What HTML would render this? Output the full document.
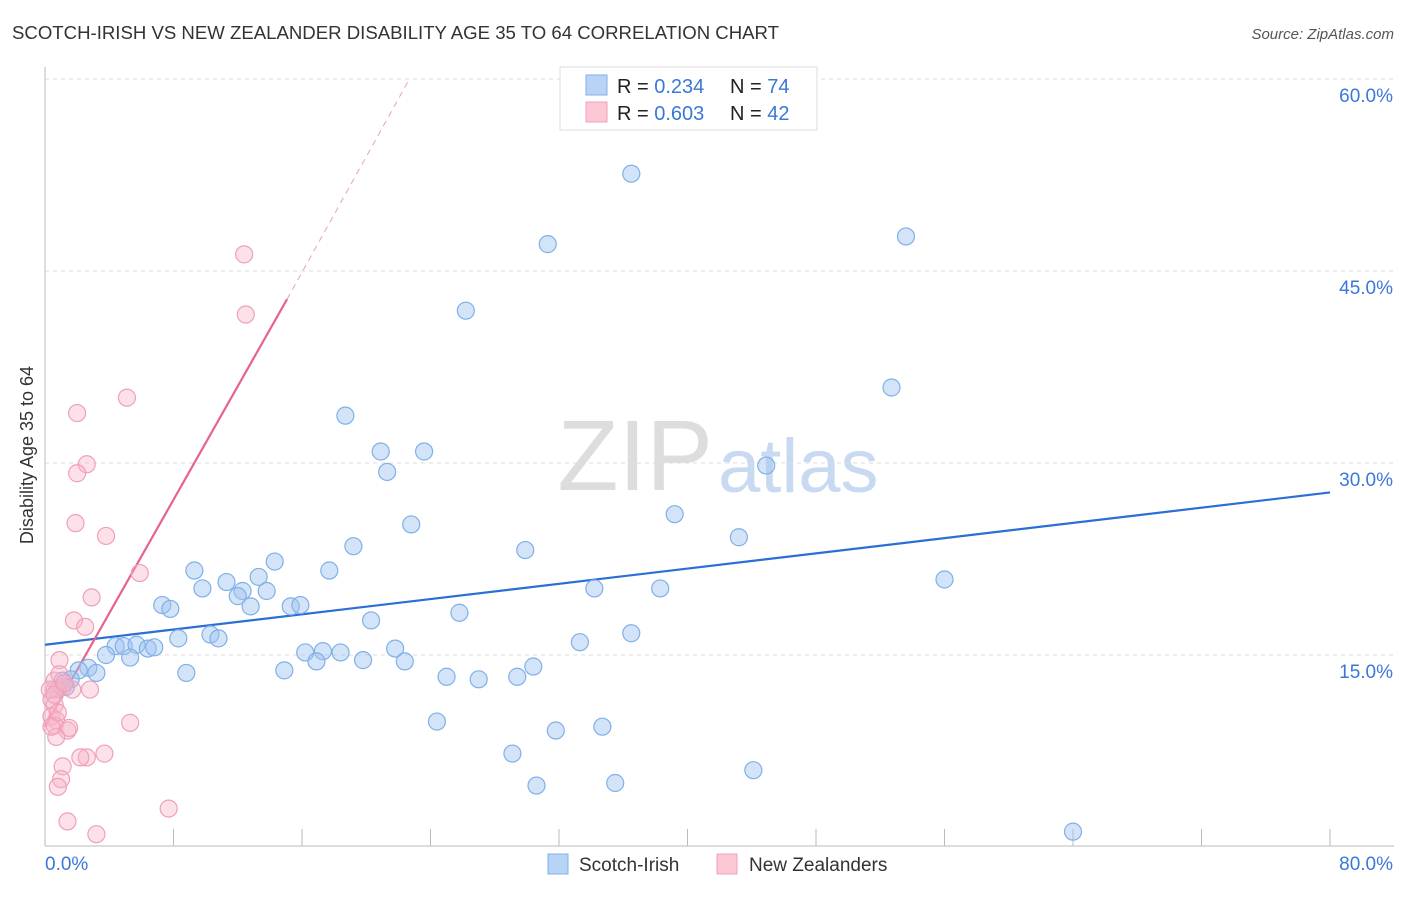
<!DOCTYPE html>
<html><head><meta charset="utf-8"><style>
body{margin:0;background:#fff;font-family:"Liberation Sans",sans-serif;}
svg text{font-family:"Liberation Sans",sans-serif;}
</style></head><body>
<svg id="chart" width="1406" height="892">
<text x="12" y="39" font-size="18.6" fill="#333">SCOTCH-IRISH VS NEW ZEALANDER DISABILITY AGE 35 TO 64 CORRELATION CHART</text>
<text x="1394" y="39" font-size="15" fill="#555" font-style="italic" text-anchor="end">Source: ZipAtlas.com</text>
<text x="713" y="490" font-size="100" fill="#ddd" font-family="Liberation Serif" text-anchor="end">ZIP</text>
<text x="718" y="492" font-size="76" fill="#c8daf2">atlas</text>
<g id="grid"></g><g id="axes"></g><g id="lines"></g><g id="pts"></g>
<text transform="translate(33,455) rotate(-90)" font-size="18" fill="#333" text-anchor="middle">Disability Age 35 to 64</text>
<g>
<rect x="560" y="67" width="257" height="63" fill="#fff" stroke="#ddd"/>
<rect x="586" y="75" width="21" height="20" fill="#b8d3f5" stroke="#7fb0e8"/>
<rect x="586" y="102" width="21" height="20" fill="#fcc8d6" stroke="#f0a0b8"/>
<text x="617" y="93" font-size="20" fill="#222">R = <tspan fill="#3a78d8">0.234</tspan></text>
<text x="730" y="93" font-size="20" fill="#222">N = <tspan fill="#3a78d8">74</tspan></text>
<text x="617" y="120" font-size="20" fill="#222">R = <tspan fill="#3a78d8">0.603</tspan></text>
<text x="730" y="120" font-size="20" fill="#222">N = <tspan fill="#3a78d8">42</tspan></text>
</g>
<g>
<rect x="548" y="854" width="20" height="20" fill="#b8d3f5" stroke="#7fb0e8"/>
<text x="579" y="871" font-size="19" fill="#333">Scotch-Irish</text>
<rect x="717" y="854" width="20" height="20" fill="#fcc8d6" stroke="#f0a0b8"/>
<text x="749" y="871" font-size="19" fill="#333">New Zealanders</text>
</g>
</svg>
<script>
const yTicks=[15,30,45,60];
const yTickLabels=["15.0%","30.0%","45.0%","60.0%"];
const xTickLabels=["0.0%","80.0%"];
const blueX=[36.5,31.3,53.6,26.2,52.7,18.7,20.9,23.6,21.3,44.9,39.2,22.8,43.2,29.9,19.2,14.3,9.3,17.7,11.3,13.3,9.8,12.3,12.0,13.8,56.0,34.2,38.3,7.3,7.8,12.8,15.3,15.9,25.8,20.3,8.3,10.3,10.8,33.3,36.5,4.4,4.9,5.7,6.4,6.8,3.8,5.3,21.8,16.2,17.3,18.4,16.9,19.8,22.4,30.4,2.7,3.2,8.8,14.9,25.0,27.0,29.4,2.1,1.6,1.1,0.8,24.4,31.8,34.7,29.1,44.1,30.6,35.5,64.0,1.3];
const blueY=[52.6,47.1,47.7,41.9,35.9,33.7,30.9,30.9,29.3,29.8,26.0,25.2,24.2,23.2,23.5,22.3,21.6,21.6,20.7,21.1,20.2,20.0,19.6,20.0,20.9,20.2,20.2,18.9,18.6,18.8,18.8,18.9,18.3,17.7,16.3,16.6,16.3,16.0,16.7,15.7,15.7,15.8,15.5,15.6,15.0,14.8,15.5,15.2,15.3,15.2,14.5,14.6,14.5,14.1,14.0,13.6,13.6,13.8,13.3,13.1,13.3,13.8,13.1,13.0,12.3,9.8,9.1,9.4,7.3,6.0,4.8,5.0,1.2,12.5];
const pinkX=[12.4,12.5,5.1,2.0,2.6,2.0,1.9,3.8,5.9,2.9,1.8,2.5,0.9,0.6,0.6,1.1,1.7,2.8,0.4,0.6,0.4,0.7,0.6,1.4,1.5,0.7,5.3,3.7,2.6,2.2,1.1,1.0,0.8,7.7,1.4,3.2,0.9,0.3,0.6,1.2,0.8,0.4];
const pinkY=[46.3,41.6,35.1,33.9,29.9,29.2,25.3,24.3,21.4,19.5,17.7,17.2,14.6,13.0,12.3,12.5,12.3,12.3,11.5,11.1,10.2,9.9,9.5,9.1,9.3,8.6,9.7,7.3,7.0,7.0,6.3,5.3,4.7,3.0,2.0,1.0,13.5,12.3,11.9,12.8,10.5,9.4];
const blueLine=[[0,15.8],[80,27.7]];
const pinkLine=[[0,9.4],[15.07,42.8]];
const pinkDash=[[15.07,42.8],[22.6,59.8]];
const NS="http://www.w3.org/2000/svg";
const sx=v=>45+v*(1285/80), sy=v=>847-v*12.8;
function mk(t,a,p){const e=document.createElementNS(NS,t);for(const k in a)e.setAttribute(k,a[k]);p.appendChild(e);return e;}
const grid=document.getElementById('grid'),axes=document.getElementById('axes'),lines=document.getElementById('lines'),pts=document.getElementById('pts');
yTicks.forEach((t,i)=>{
 const l=mk('line',{x1:45,x2:1394,y1:sy(t),y2:sy(t),stroke:'#ddd','stroke-dasharray':'4,4'},grid);
 
 
 const tx=mk('text',{x:1393,y:sy(t)+23,'font-size':19,fill:'#3a78d8','text-anchor':'end'},axes);tx.textContent=yTickLabels[i];
 
 
});
mk('line',{x1:45,x2:45,y1:67,y2:846,stroke:'#bbb'},axes);
mk('line',{x1:45,x2:1394,y1:846,y2:846,stroke:'#bbb'},axes);
for(let i=0;i<=10;i++){const tk=mk('line',{x1:sx(i*8),x2:sx(i*8),y1:829,y2:846,stroke:'#bbb'},axes);
 
 }
[[0,'start',45],[80,'end',1393]].forEach((d,i)=>{const tx=mk('text',{x:d[2],y:870,'font-size':19,fill:'#3a78d8','text-anchor':d[1]},axes);tx.textContent=xTickLabels[i];
 
 });
function ln(p,c,w,dash,name){const l=mk('line',{x1:sx(p[0][0]),y1:sy(p[0][1]),x2:sx(p[1][0]),y2:sy(p[1][1]),stroke:c,'stroke-width':w},lines);if(dash)l.setAttribute('stroke-dasharray',dash);
 
 }
ln(blueLine,'#2a6fd6',2.2,null,'scotch-irish-trendline');
ln(pinkLine,'#e8628f',2.2,null,'new-zealanders-trendline');
ln(pinkDash,'#e8a0b8',1,'6,5','new-zealanders-trendline-extension');
blueX.forEach((x,i)=>{const c=mk('circle',{cx:sx(x),cy:sy(blueY[i]),r:8.5,fill:'rgba(160,196,240,0.45)',stroke:'#7fb0e8','stroke-width':1.2},pts);
 
 });
pinkX.forEach((x,i)=>{const c=mk('circle',{cx:sx(x),cy:sy(pinkY[i]),r:8.5,fill:'rgba(248,180,200,0.4)',stroke:'#f0a0b8','stroke-width':1.2},pts);
 
 });
</script>
</body></html>
